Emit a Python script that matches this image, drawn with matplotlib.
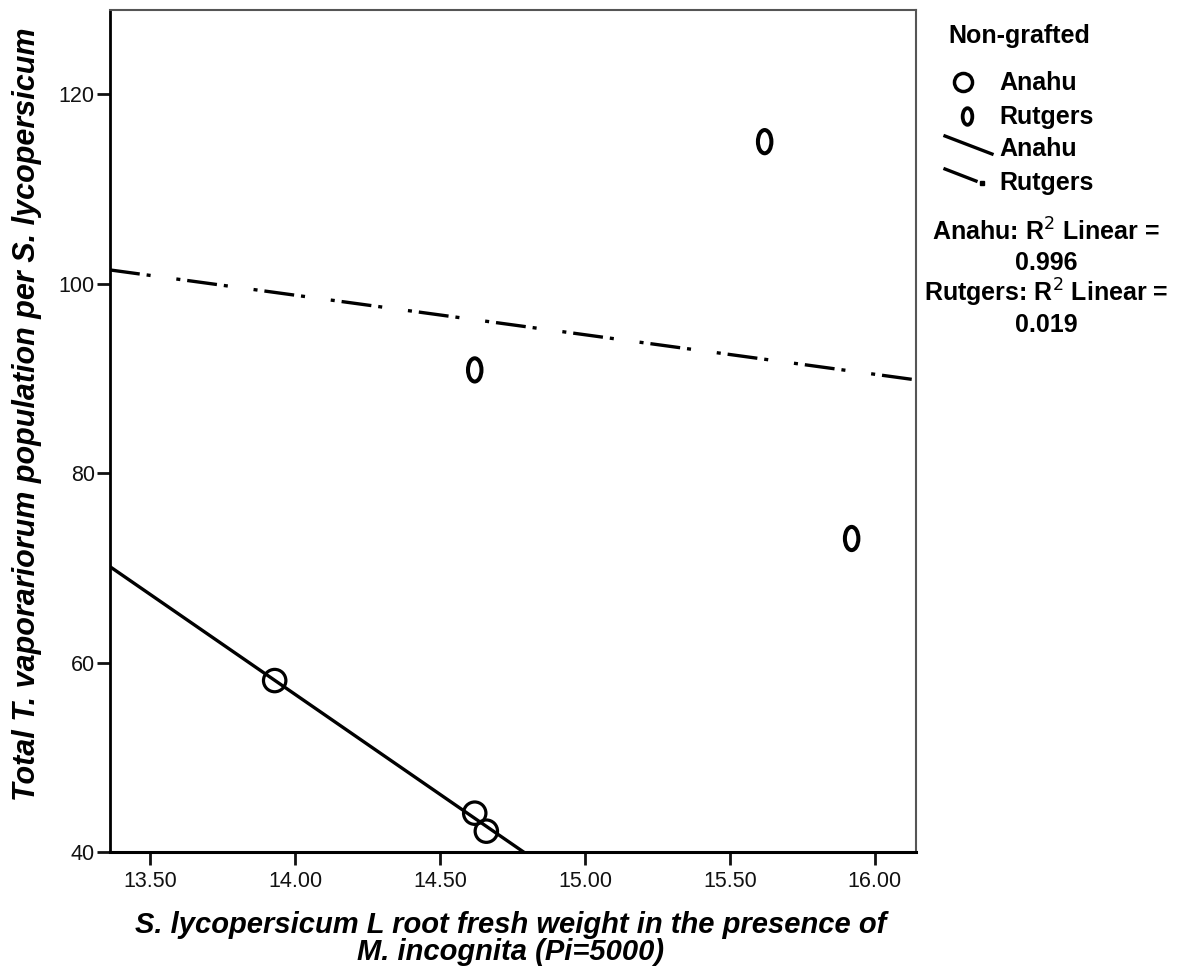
import numpy as np
import matplotlib.pyplot as plt
from matplotlib.path import Path
from matplotlib.transforms import Affine2D
from matplotlib.lines import Line2D

plt.rcParams['font.family'] = ['Liberation Sans', 'DejaVu Sans']
plt.rcParams['lines.scale_dashes'] = False

# data
anahu_x = [13.93, 14.62, 14.66]
anahu_y = [58.1, 44.1, 42.2]
rutgers_x = [15.62, 14.62, 15.92]
rutgers_y = [115.0, 90.9, 73.1]
x_ticks = [13.5, 14.0, 14.5, 15.0, 15.5, 16.0]
y_ticks = [40, 60, 80, 100, 120]
xlim = (13.362, 16.142)
ylim = (40, 128.9)

# "0" shaped marker for Rutgers (narrow ellipse)
oval = Path.unit_circle().transformed(Affine2D().scale(0.58, 1.0))
dashdot = (0, (21.6, 5.0, 2.9, 18.7, 2.9, 5.0))

W, H = 1183, 973
fig = plt.figure(figsize=(W / 100, H / 100), dpi=100)
ax = fig.add_axes([110 / W, 1 - 852 / H, (916 - 110) / W, (852 - 10) / H])

# fit lines
xx = np.linspace(xlim[0], xlim[1], 200)
ka, ba = np.polyfit(anahu_x, anahu_y, 1)
kr, br = np.polyfit(rutgers_x, rutgers_y, 1)
ax.plot(xx, ka * xx + ba, color='black', lw=2.4, solid_capstyle='butt')
ax.plot(xx, kr * xx + br, color='black', lw=2.4, linestyle=dashdot,
        dash_capstyle='butt')

ax.scatter(anahu_x, anahu_y, s=260, facecolors='none', edgecolors='black',
           linewidths=2.3, zorder=3)
ax.scatter(rutgers_x, rutgers_y, marker=oval, s=280, facecolors='none',
           edgecolors='black', linewidths=2.9, zorder=3)

ax.set_xlim(*xlim)
ax.set_ylim(*ylim)
ax.set_xticks(x_ticks)
ax.set_xticklabels([f'{v:.2f}' for v in x_ticks])
ax.set_yticks(y_ticks)
ax.tick_params(axis='x', length=9, width=2, labelsize=15.5, pad=5, colors='#111111')
ax.tick_params(axis='y', length=9.5, width=2, labelsize=15.5, pad=1.5, colors='#111111')
for s in ax.spines.values():
    s.set_color('#555555')
    s.set_linewidth(1.5)
ax.spines['bottom'].set_color('black')
ax.spines['bottom'].set_linewidth(2.2)
ax.spines['left'].set_color('black')
ax.spines['left'].set_linewidth(2)

ax.set_xlabel('S. lycopersicum L root fresh weight in the presence of\nM. incognita (Pi=5000)',
              fontsize=21, fontweight='bold', style='italic', linespacing=0.95)
ax.xaxis.set_label_coords(0.497, -(911 - 852) / 842)
ax.set_ylabel('Total T. vaporariorum population per S. lycopersicum',
              fontsize=22, fontweight='bold', style='italic')
ax.yaxis.set_label_coords(-(110 - 42) / 806, (852 - 414) / 842)

# legend, drawn in figure pixels
def fx(px):
    return px / W
def fy(py):
    return 1 - py / H

fig.text(fx(1019), fy(36), 'Non-grafted', ha='center', va='center',
         fontsize=18, fontweight='bold')
fig.add_artist(Line2D([fx(963)], [fy(82)], marker='o', markersize=13,
                      markerfacecolor='none', markeredgecolor='black',
                      markeredgewidth=2.5, transform=fig.transFigure))
fig.add_artist(Line2D([fx(967)], [fy(116)], marker=oval, markersize=12,
                      markerfacecolor='none', markeredgecolor='black',
                      markeredgewidth=2.7, transform=fig.transFigure))
fig.add_artist(Line2D([fx(945), fx(992)], [fy(136), fy(154)], color='black',
                      lw=2.4, transform=fig.transFigure))
fig.add_artist(Line2D([fx(945), fx(976)], [fy(169), fy(181)], color='black',
                      lw=2.4, transform=fig.transFigure))
fig.add_artist(Line2D([fx(982)], [fy(183)], marker='s', markersize=2.8,
                      color='black', transform=fig.transFigure))
for label, py in [('Anahu', 83), ('Rutgers', 117), ('Anahu', 149), ('Rutgers', 183)]:
    fig.text(fx(999), fy(py), label, ha='left', va='center',
             fontsize=18, fontweight='bold')

r2_lines = [('Anahu: R$^2$ Linear =', 232), ('0.996', 263),
            ('Rutgers: R$^2$ Linear =', 293), ('0.019', 325)]
for label, py in r2_lines:
    fig.text(fx(1046), fy(py), label, ha='center', va='center',
             fontsize=18, fontweight='bold')

fig.savefig('out.png', dpi=100)
